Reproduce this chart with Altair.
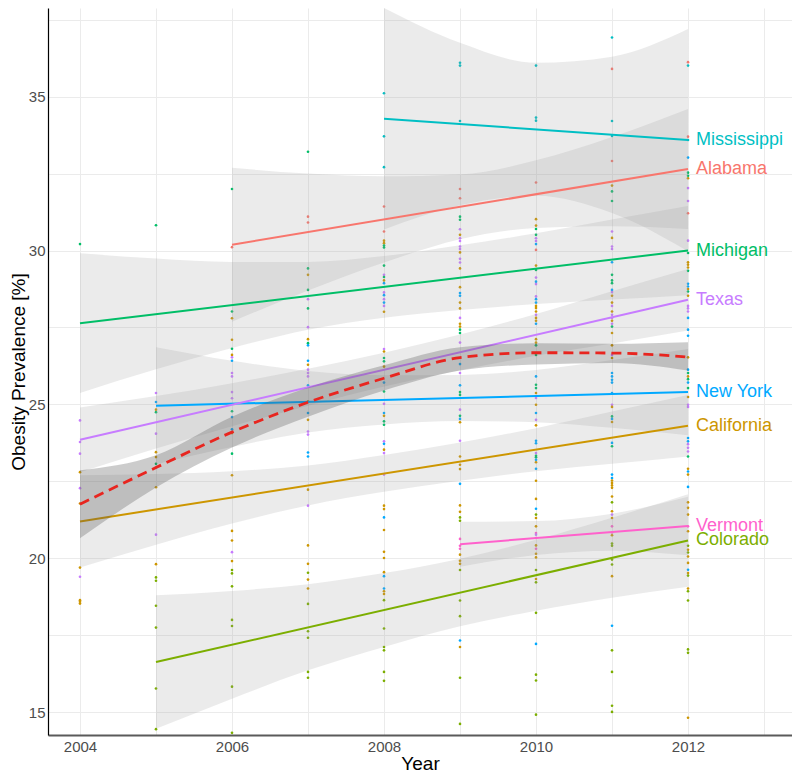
import altair as alt
import pandas as pd

# ---------------- data ----------------
states = ["Alabama", "California", "Colorado", "Michigan", "Mississippi", "New York", "Texas", "Vermont"]
state_colors = ["#F8766D", "#CD9600", "#7CAE00", "#00BE67", "#00BFC4", "#00A9FF", "#C77CFF", "#FF61CC"]
code = {"AL": "Alabama", "CA": "California", "CO": "Colorado", "MI": "Michigan",
        "MS": "Mississippi", "NY": "New York", "TX": "Texas", "VT": "Vermont"}

pts_2004 = [("MI", 30.21), ("TX", 24.48), ("TX", 23.78), ("TX", 23.4), ("TX", 22.28), ("TX", 19.4),
            ("CA", 22.8), ("CA", 21.78), ("CA", 19.7), ("CA", 18.64), ("CA", 18.59), ("CA", 18.53)]
pts_2005 = [("MI", 30.82), ("MI", 24.75), ("MI", 23.07), ("TX", 25.37), ("TX", 24.05), ("TX", 20.77),
            ("TX", 22.94), ("NY", 25.08), ("CA", 24.83), ("CA", 23.45), ("CA", 23.29), ("CA", 22.31),
            ("CA", 19.81), ("CO", 19.38), ("CO", 19.27), ("CO", 18.46), ("CO", 17.75), ("CO", 15.77), ("CO", 14.45)]
pts_2006 = [("MI", 32.0), ("MI", 28.02), ("MI", 26.81), ("MI", 24.78), ("MI", 23.4), ("AL", 30.11),
            ("CA", 27.8), ("CA", 27.1), ("CA", 26.61), ("CA", 24.07), ("CA", 22.7), ("CA", 20.89),
            ("CA", 20.58), ("CA", 19.91), ("TX", 26.53), ("TX", 26.02), ("TX", 25.91), ("TX", 25.4),
            ("TX", 25.2), ("TX", 20.2), ("NY", 26.42), ("NY", 24.59), ("NY", 24.19), ("CO", 19.62),
            ("CO", 19.51), ("CO", 19.09), ("CO", 18.0), ("CO", 17.8), ("CO", 15.83), ("CO", 14.33)]
pts_2007 = [("MI", 33.21), ("AL", 31.1), ("AL", 30.91), ("MI", 29.42), ("CA", 29.21), ("MI", 28.72),
            ("TX", 28.42), ("MI", 28.12), ("TX", 27.51), ("CA", 27.12), ("MI", 26.99), ("NY", 26.92),
            ("NY", 26.42), ("CA", 26.29), ("TX", 26.13), ("TX", 26.02), ("TX", 25.91), ("NY", 25.62),
            ("CA", 25.1), ("NY", 24.72), ("CA", 24.5), ("TX", 24.12), ("TX", 24.02), ("NY", 23.44),
            ("NY", 23.31), ("CA", 22.23), ("TX", 21.71), ("CA", 20.42), ("CA", 19.82), ("CO", 19.53),
            ("CA", 19.31), ("CA", 19.02), ("CO", 18.52), ("CO", 17.63), ("CO", 17.42), ("CO", 16.31), ("CO", 16.12)]
pts_2008 = [("MS", 35.11), ("MS", 33.71), ("MS", 32.71), ("AL", 31.43), ("AL", 30.62), ("CA", 30.32),
            ("CA", 30.24), ("MI", 30.16), ("MI", 30.1), ("MI", 29.51), ("TX", 29.21), ("MI", 29.14),
            ("CA", 29.03), ("NY", 28.94), ("TX", 28.64), ("NY", 28.55), ("TX", 28.42), ("NY", 28.31),
            ("TX", 28.2), ("CA", 28.01), ("TX", 26.8), ("CA", 26.72), ("MI", 26.51), ("MI", 26.4),
            ("CA", 26.23), ("NY", 25.71), ("MI", 25.42), ("TX", 25.02), ("NY", 24.72), ("CA", 24.63),
            ("MI", 24.45), ("MI", 24.34), ("TX", 23.8), ("NY", 23.72), ("CA", 23.53), ("TX", 23.42),
            ("TX", 22.72), ("CA", 21.71), ("CA", 21.6), ("NY", 21.33), ("CA", 20.92), ("CA", 20.21),
            ("CA", 20.01), ("CA", 19.55), ("NY", 19.42), ("NY", 19.02), ("CA", 18.93), ("CA", 18.84),
            ("CO", 18.64), ("CO", 17.72), ("CO", 17.12), ("CO", 17.01), ("CO", 16.31), ("CO", 16.02)]
pts_2009 = [("MS", 36.1), ("MS", 36.01), ("MS", 34.21), ("AL", 32.0), ("AL", 31.7), ("MI", 31.1),
            ("MI", 31.0), ("TX", 30.69), ("CA", 30.51), ("TX", 30.4), ("TX", 30.31), ("TX", 30.13),
            ("TX", 30.05), ("CA", 29.94), ("TX", 29.73), ("TX", 29.61), ("CA", 29.42), ("CA", 28.81),
            ("NY", 28.62), ("NY", 28.53), ("CA", 28.31), ("CA", 28.12), ("TX", 27.81), ("CA", 27.62),
            ("CA", 27.53), ("MI", 27.43), ("MI", 27.32), ("TX", 27.01), ("NY", 26.31), ("TX", 26.02),
            ("NY", 25.62), ("MI", 25.4), ("MI", 25.31), ("TX", 24.83), ("MI", 24.63), ("NY", 24.53),
            ("CA", 24.42), ("TX", 23.82), ("CA", 23.31), ("CA", 23.04), ("CA", 22.9), ("NY", 22.42),
            ("CA", 21.72), ("CA", 21.51), ("CO", 21.33), ("CO", 21.22), ("VT", 20.63), ("VT", 20.41),
            ("VT", 20.31), ("CA", 20.12), ("CA", 19.92), ("CA", 19.82), ("CO", 19.62), ("CO", 18.63),
            ("CO", 18.12), ("NY", 17.33), ("CA", 17.12), ("CO", 16.12), ("CO", 14.62)]
pts_2010 = [("MS", 36.01), ("MS", 34.32), ("MS", 34.22), ("AL", 32.21), ("CA", 31.02), ("CA", 30.81),
            ("MI", 30.7), ("MI", 30.51), ("TX", 30.4), ("TX", 30.31), ("NY", 30.21), ("AL", 30.02),
            ("CA", 29.51), ("MI", 29.37), ("TX", 29.12), ("NY", 28.99), ("TX", 28.91), ("TX", 28.51),
            ("NY", 28.42), ("NY", 28.31), ("CA", 28.2), ("CA", 28.13), ("CA", 28.02), ("TX", 27.91),
            ("CA", 27.81), ("CA", 27.72), ("NY", 27.62), ("CA", 27.12), ("CA", 27.01), ("MI", 26.92),
            ("MI", 26.61), ("NY", 25.91), ("MI", 25.64), ("MI", 25.53), ("CA", 25.37), ("TX", 25.21),
            ("CA", 24.99), ("NY", 24.72), ("TX", 24.5), ("CA", 24.32), ("NY", 23.82), ("NY", 23.74),
            ("TX", 23.42), ("MI", 23.33), ("MI", 23.28), ("NY", 23.2), ("CA", 23.12), ("NY", 22.91),
            ("CA", 22.52), ("CA", 21.93), ("NY", 21.61), ("CO", 21.42), ("CA", 21.31), ("CA", 21.04),
            ("VT", 20.82), ("TX", 20.77), ("VT", 20.66), ("CA", 20.42), ("VT", 20.31), ("CA", 20.15),
            ("CA", 20.03), ("CO", 19.62), ("CA", 19.33), ("CO", 19.22), ("CO", 18.23), ("NY", 17.22),
            ("CO", 16.22), ("CO", 16.03), ("CO", 14.92)]
pts_2011 = [("MS", 36.92), ("AL", 35.9), ("MS", 34.21), ("MS", 33.72), ("AL", 32.91), ("CA", 32.11),
            ("MI", 31.92), ("MI", 31.61), ("TX", 30.62), ("CA", 30.41), ("TX", 30.13), ("TX", 30.05),
            ("NY", 29.62), ("MI", 29.21), ("MI", 29.03), ("MI", 28.94), ("NY", 28.72), ("TX", 28.65),
            ("CA", 28.53), ("CA", 28.31), ("TX", 28.2), ("CA", 28.02), ("TX", 27.91), ("TX", 27.81),
            ("CA", 27.72), ("TX", 27.62), ("MI", 27.53), ("CA", 27.32), ("CA", 26.92), ("TX", 26.61),
            ("CA", 26.51), ("NY", 26.02), ("NY", 25.91), ("NY", 25.8), ("NY", 25.71), ("NY", 25.37),
            ("TX", 24.99), ("CA", 24.92), ("MI", 24.61), ("NY", 24.53), ("CA", 24.43), ("NY", 23.75),
            ("MI", 23.64), ("NY", 22.72), ("NY", 22.61), ("CA", 22.53), ("CA", 22.45), ("CA", 22.37),
            ("CA", 22.29), ("CA", 22.01), ("CO", 21.82), ("CA", 21.53), ("TX", 21.42), ("CA", 21.31),
            ("VT", 21.04), ("VT", 20.84), ("CA", 20.75), ("CO", 20.48), ("CO", 20.41), ("CO", 19.96),
            ("CO", 19.8), ("CA", 19.42), ("NY", 17.81), ("CO", 17.01), ("CO", 16.31), ("CO", 15.21), ("CO", 15.01)]
pts_2012 = [("AL", 36.12), ("MS", 36.01), ("AL", 33.7), ("MS", 33.59), ("NY", 33.02), ("MI", 32.53),
            ("MI", 32.43), ("CA", 32.35), ("TX", 32.03), ("TX", 31.61), ("AL", 31.21), ("TX", 30.32),
            ("MI", 29.92), ("CA", 29.62), ("CA", 29.54), ("CA", 29.45), ("MI", 29.34), ("NY", 28.92),
            ("NY", 28.83), ("CA", 28.75), ("MI", 28.67), ("CA", 28.53), ("TX", 28.2), ("TX", 28.12),
            ("TX", 28.02), ("NY", 27.81), ("NY", 27.43), ("NY", 27.23), ("CA", 26.53), ("NY", 26.13),
            ("MI", 26.02), ("CA", 25.91), ("MI", 25.82), ("NY", 25.71), ("MI", 25.53), ("CA", 25.24),
            ("TX", 24.99), ("TX", 24.92), ("NY", 23.91), ("NY", 23.8), ("TX", 23.71), ("TX", 23.59),
            ("TX", 23.47), ("MI", 23.31), ("CA", 22.91), ("NY", 22.82), ("CA", 22.72), ("NY", 22.32),
            ("CA", 21.82), ("CA", 21.64), ("CA", 21.42), ("VT", 21.04), ("CA", 20.88), ("CO", 20.41),
            ("CA", 20.28), ("CO", 20.19), ("CA", 20.06), ("CA", 19.85), ("NY", 19.63), ("CA", 19.52),
            ("CO", 19.44), ("CA", 19.02), ("CO", 18.93), ("CO", 18.63), ("CO", 17.04), ("CO", 16.93), ("CA", 14.82)]

points_by_year = {2004: pts_2004, 2005: pts_2005, 2006: pts_2006, 2007: pts_2007, 2008: pts_2008,
                  2009: pts_2009, 2010: pts_2010, 2011: pts_2011, 2012: pts_2012}

# linear fits (start/end of each state's line)
line_states = ["Alabama", "California", "Colorado", "Michigan", "Mississippi", "New York", "Texas", "Vermont"]
line_start_year = [2006, 2004, 2005, 2004, 2008, 2005, 2004, 2009]
line_start_val = [30.19, 21.20, 16.63, 27.64, 34.28, 24.96, 23.85, 20.46]
line_end_year = [2012, 2012, 2012, 2012, 2012, 2012, 2012, 2012]
line_end_val = [32.65, 24.31, 20.58, 30.00, 33.59, 25.40, 28.40, 21.05]

# confidence bands: (years, lower, upper)
band_AL = ([2006, 2007, 2008, 2009, 2010, 2011, 2012],
           [27.69, 28.70, 29.61, 30.37, 30.73, 30.79, 30.70],
           [32.69, 32.50, 32.41, 32.47, 32.93, 33.69, 34.60])
band_CA = ([2004, 2005, 2006, 2007, 2008, 2009, 2010, 2011, 2012],
           [19.70, 20.44, 21.13, 21.72, 22.16, 22.52, 22.83, 23.07, 23.31],
           [22.70, 22.74, 22.83, 23.02, 23.36, 23.76, 24.23, 24.77, 25.31])
band_CO = ([2005, 2006, 2007, 2008, 2009, 2010, 2011, 2012],
           [14.46, 15.44, 16.36, 17.12, 17.79, 18.30, 18.72, 19.08],
           [18.80, 18.94, 19.16, 19.52, 19.99, 20.60, 21.32, 22.08])
band_MI = ([2004, 2005, 2006, 2007, 2008, 2009, 2010, 2011, 2012],
           [25.37, 26.14, 26.83, 27.43, 27.82, 28.07, 28.26, 28.41, 28.55],
           [29.91, 29.74, 29.63, 29.63, 29.82, 30.17, 30.56, 31.01, 31.45])
band_MS = ([2008, 2009, 2010, 2011, 2012],
           [30.68, 31.47, 31.78, 31.22, 29.98],
           [37.88, 36.75, 36.10, 36.30, 37.20])
band_NY = ([2005, 2006, 2007, 2008, 2009, 2010, 2011, 2012],
           [23.06, 23.62, 24.09, 24.35, 24.46, 24.42, 24.24, 24.00],
           [26.86, 26.42, 26.09, 25.95, 25.96, 26.12, 26.44, 26.80])
band_TX = ([2004, 2005, 2006, 2007, 2008, 2009, 2010, 2011, 2012],
           [22.80, 23.57, 24.29, 24.96, 25.58, 26.11, 26.58, 26.98, 27.40],
           [24.90, 25.27, 25.69, 26.16, 26.68, 27.27, 27.94, 28.68, 29.40])
band_VT = ([2009, 2010, 2011, 2012],
           [19.73, 20.11, 20.25, 20.10],
           [21.19, 21.21, 21.45, 22.00])
bands = {"Alabama": band_AL, "California": band_CA, "Colorado": band_CO, "Michigan": band_MI,
         "Mississippi": band_MS, "New York": band_NY, "Texas": band_TX, "Vermont": band_VT}

# overall loess trend
loess_years = [2004, 2005, 2006, 2007, 2008, 2009, 2010, 2011, 2012]
loess_fit = [21.76, 22.95, 24.10, 25.07, 25.85, 26.52, 26.68, 26.67, 26.54]
loess_lower = [20.65, 22.30, 23.60, 24.60, 25.45, 26.10, 26.30, 26.35, 26.10]
loess_upper = [22.86, 23.35, 24.60, 25.55, 26.27, 26.86, 26.99, 26.97, 27.02]

x_ticks = [2004, 2005, 2006, 2007, 2008, 2009, 2010, 2011, 2012, 2013]
y_ticks = [15, 17.5, 20, 22.5, 25, 27.5, 30, 32.5, 35, 37.5]

# ---------------- tables ----------------
pts_df = pd.DataFrame([{"year": yr, "state": code[c], "value": v}
                       for yr, lst in points_by_year.items() for c, v in lst])
band_df = pd.DataFrame([{"state": s, "year": yy, "lower": lo, "upper": up}
                        for s, (ys, los, ups) in bands.items() for yy, lo, up in zip(ys, los, ups)])
line_rows = []
for s, y0, v0, y1, v1 in zip(line_states, line_start_year, line_start_val, line_end_year, line_end_val):
    line_rows.append({"state": s, "year": y0, "value": v0})
    line_rows.append({"state": s, "year": y1, "value": v1})
line_df = pd.DataFrame(line_rows)
label_df = pd.DataFrame({"state": line_states, "year": line_end_year, "value": line_end_val})
loess_df = pd.DataFrame({"year": loess_years, "fit": loess_fit, "lower": loess_lower, "upper": loess_upper})

# ---------------- encodings ----------------
FONT = "Liberation Sans"
xscale = alt.Scale(domain=[2003.579, 2013.368], nice=False, zero=False)
yscale = alt.Scale(domain=[14.26, 37.88], nice=False, zero=False)
color_scale = alt.Scale(domain=states, range=state_colors)

x_axis = alt.Axis(values=x_ticks, title="Year", format="d",
                  labelExpr="(datum.value % 2 == 0 && datum.value <= 2012) ? datum.label : ''")
y_axis = alt.Axis(values=y_ticks, title="Obesity Prevalence [%]",
                  labelExpr="(datum.value % 5 == 0) ? datum.label : ''")

X = lambda f="year": alt.X(f"{f}:Q", scale=xscale, axis=x_axis)
Y = lambda f: alt.Y(f"{f}:Q", scale=yscale, axis=y_axis)

points = alt.Chart(pts_df).mark_circle(size=7, opacity=1, clip=True).encode(
    x=X(), y=Y("value"),
    color=alt.Color("state:N", scale=color_scale, legend=None))

band_layer = alt.Chart(band_df).mark_area(interpolate="monotone", color="#999999", opacity=0.2, clip=True).encode(
    x=X(), y=Y("lower"), y2="upper:Q", detail="state:N")

lines = alt.Chart(line_df).mark_line(strokeWidth=2, clip=True).encode(
    x=X(), y=Y("value"),
    color=alt.Color("state:N", scale=color_scale, legend=None),
    detail="state:N")

loess_band = alt.Chart(loess_df).mark_area(interpolate="monotone", color="#555555", opacity=0.3, clip=True).encode(
    x=X(), y=Y("lower"), y2="upper:Q")

loess_line = alt.Chart(loess_df).mark_line(interpolate="monotone", color="#E8251F", strokeWidth=2.8,
                                           strokeDash=[10, 6], clip=True).encode(
    x=X(), y=Y("fit"))

labels = alt.Chart(label_df).mark_text(align="left", baseline="middle", dx=8, fontSize=18, font=FONT).encode(
    x=X(), y=Y("value"), text="state:N",
    color=alt.Color("state:N", scale=color_scale, legend=None))

chart = alt.layer(points, band_layer, lines, loess_band, loess_line, labels).properties(
    width=744, height=727,
    autosize=alt.AutoSizeParams(type="none"),
    padding={"left": 40, "top": 0, "right": 0, "bottom": 40},
    background="white",
).configure_view(stroke=None).configure_axis(
    grid=True, gridColor="#EBEBEB", gridWidth=1, ticks=False,
    labelFont=FONT, labelFontSize=15, labelColor="#4D4D4D",
    titleFont=FONT, titleFontSize=19, titleFontWeight="normal", titleColor="#000000",
).configure_axisX(
    domainColor="#5A5A5A", domainWidth=2, labelPadding=4, titlePadding=0,
).configure_axisY(
    domainColor="#000000", domainWidth=1.2, labelPadding=3, titlePadding=0,
)

chart.save("out.html", embed_options={"renderer": "svg", "actions": False})
